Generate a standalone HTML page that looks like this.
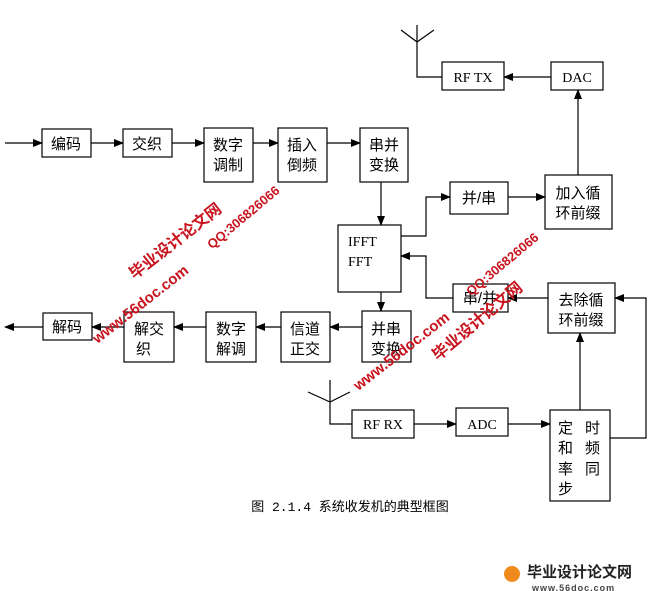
<!DOCTYPE html>
<html><head><meta charset="utf-8"><style>
html,body{margin:0;padding:0;background:#fff;}
svg{display:block;}
.t{font-family:"Liberation Sans","Noto Sans CJK SC",sans-serif;font-size:15px;fill:#000;}
.s{font-family:"Liberation Serif","Noto Sans CJK SC",serif;font-size:14px;fill:#000;}
.w{font-family:"Liberation Sans","Noto Sans CJK SC",sans-serif;font-weight:bold;fill:#c8141e;font-size:15px;}
</style></head><body>
<svg width="653" height="591" viewBox="0 0 653 591" xmlns="http://www.w3.org/2000/svg">
<defs><marker id="a" markerWidth="10" markerHeight="8" refX="9" refY="4" orient="auto" markerUnits="userSpaceOnUse"><path d="M0,0 L10,4 L0,8 z" fill="#000"/></marker></defs>
<g fill="none" stroke="#000" stroke-width="1.2">
<rect x="42" y="129" width="49" height="28"/>
<rect x="123" y="129" width="49" height="28"/>
<rect x="204" y="128" width="49" height="54"/>
<rect x="278" y="128" width="49" height="54"/>
<rect x="360" y="128" width="48" height="54"/>
<rect x="338" y="225" width="63" height="67"/>
<rect x="450" y="182" width="58" height="32"/>
<rect x="545" y="175" width="67" height="54"/>
<rect x="551" y="62" width="52" height="28"/>
<rect x="442" y="62" width="62" height="28"/>
<rect x="43" y="313" width="49" height="27"/>
<rect x="124" y="312" width="50" height="50"/>
<rect x="206" y="312" width="50" height="50"/>
<rect x="281" y="312" width="49" height="50"/>
<rect x="362" y="311" width="49" height="51"/>
<rect x="453" y="284" width="55" height="28"/>
<rect x="548" y="283" width="67" height="50"/>
<rect x="352" y="410" width="62" height="28"/>
<rect x="456" y="408" width="52" height="28"/>
<rect x="550" y="410" width="60" height="91"/>
</g>
<g fill="none" stroke="#000" stroke-width="1.2" marker-end="url(#a)">
<line x1="5" y1="143" x2="42" y2="143"/>
<line x1="91" y1="143" x2="123" y2="143"/>
<line x1="172" y1="143" x2="204" y2="143"/>
<line x1="253" y1="143" x2="278" y2="143"/>
<line x1="327" y1="143" x2="360" y2="143"/>
<line x1="381" y1="182" x2="381" y2="225"/>
<polyline points="401,236 426,236 426,197 450,197"/>
<line x1="508" y1="197" x2="545" y2="197"/>
<line x1="578" y1="175" x2="578" y2="90"/>
<line x1="551" y1="77" x2="504" y2="77"/>
<polyline points="453,298 426,298 426,256 401,256"/>
<line x1="548" y1="298" x2="508" y2="298"/>
<line x1="381" y1="292" x2="381" y2="311"/>
<line x1="362" y1="327" x2="330" y2="327"/>
<line x1="281" y1="327" x2="256" y2="327"/>
<line x1="206" y1="327" x2="174" y2="327"/>
<line x1="124" y1="327" x2="92" y2="327"/>
<line x1="43" y1="327" x2="5" y2="327"/>
<line x1="414" y1="424" x2="456" y2="424"/>
<line x1="508" y1="424" x2="550" y2="424"/>
<line x1="580" y1="410" x2="580" y2="333"/>
<polyline points="610,438 646,438 646,298 615,298"/>
</g>
<g fill="none" stroke="#000" stroke-width="1.2">
<polyline points="442,77 417,77 417,25"/>
<polyline points="401,30 417,42 434,30"/>
<polyline points="352,424 330,424 330,380"/>
<polyline points="308,392 330,402 350,392"/>
</g>
<text class="t" x="66" y="149" text-anchor="middle">编码</text>
<text class="t" x="147" y="149" text-anchor="middle">交织</text>
<text class="t" x="228" y="150" text-anchor="middle">数字</text><text class="t" x="228" y="170" text-anchor="middle">调制</text>
<text class="t" x="302" y="150" text-anchor="middle">插入</text><text class="t" x="302" y="170" text-anchor="middle">倒频</text>
<text class="t" x="384" y="150" text-anchor="middle">串并</text><text class="t" x="384" y="170" text-anchor="middle">变换</text>
<text class="s" x="348" y="246">IFFT</text><text class="s" x="348" y="266">FFT</text>
<text class="t" x="479" y="203" text-anchor="middle">并/串</text>
<text class="t" x="578" y="198" text-anchor="middle">加入循</text><text class="t" x="578" y="218" text-anchor="middle">环前缀</text>
<text class="s" x="577" y="82" text-anchor="middle">DAC</text>
<text class="s" x="473" y="82" text-anchor="middle">RF TX</text>
<text class="t" x="67" y="332" text-anchor="middle">解码</text>
<text class="t" x="149" y="334" text-anchor="middle">解交</text><text class="t" x="136" y="354">织</text>
<text class="t" x="231" y="334" text-anchor="middle">数字</text><text class="t" x="231" y="354" text-anchor="middle">解调</text>
<text class="t" x="305" y="334" text-anchor="middle">信道</text><text class="t" x="305" y="354" text-anchor="middle">正交</text>
<text class="t" x="386" y="334" text-anchor="middle">并串</text><text class="t" x="386" y="354" text-anchor="middle">变换</text>
<text class="t" x="480" y="303" text-anchor="middle">串/并</text>
<text class="t" x="581" y="305" text-anchor="middle">去除循</text><text class="t" x="581" y="325" text-anchor="middle">环前缀</text>
<text class="s" x="383" y="429" text-anchor="middle">RF RX</text>
<text class="s" x="482" y="429" text-anchor="middle">ADC</text>
<text class="t" x="558" y="433">定</text><text class="t" x="585" y="433">时</text>
<text class="t" x="558" y="453">和</text><text class="t" x="585" y="453">频</text>
<text class="t" x="558" y="474">率</text><text class="t" x="585" y="474">同</text>
<text class="t" x="558" y="494">步</text>
<text x="350" y="511" text-anchor="middle" style="font-family:'Liberation Mono','Noto Sans CJK SC',monospace;font-size:13px;fill:#000">图 2.1.4 系统收发机的典型框图</text>
<g class="w">
<text transform="translate(176,242) rotate(-38)" text-anchor="middle" dominant-baseline="middle" font-size="16">毕业设计论文网</text>
<text transform="translate(141,305) rotate(-38)" text-anchor="middle" dominant-baseline="middle">www.56doc.com</text>
<text transform="translate(244,218) rotate(-40)" text-anchor="middle" dominant-baseline="middle" font-size="13">QQ:306826066</text>
<text transform="translate(402,352) rotate(-38)" text-anchor="middle" dominant-baseline="middle">www.56doc.com</text>
<text transform="translate(478,322) rotate(-40)" text-anchor="middle" dominant-baseline="middle" font-size="16">毕业设计论文网</text>
<text transform="translate(503,265) rotate(-40)" text-anchor="middle" dominant-baseline="middle" font-size="13">QQ:306826066</text>
</g>
<circle cx="512" cy="574" r="8" fill="#f08a1c"/>
<text x="527" y="577" style="font-family:'Noto Sans CJK SC',sans-serif;font-weight:bold;font-size:15px;fill:#222">毕业设计论文网</text>
<text x="532" y="591" style="font-family:'Liberation Sans',sans-serif;font-weight:bold;font-size:9px;fill:#444;letter-spacing:1px">www.56doc.com</text>
</svg>
</body></html>
